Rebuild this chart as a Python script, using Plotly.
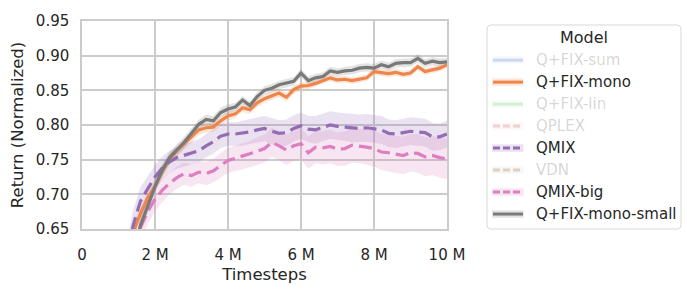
import plotly.graph_objects as go

# ---------------- data ----------------
timesteps_m = [0.0, 0.2, 0.4, 0.6, 0.8, 1.0, 1.2, 1.4, 1.6, 1.8,
               2.0, 2.2, 2.4, 2.6, 2.8, 3.0, 3.2, 3.4, 3.6, 3.8,
               4.0, 4.2, 4.4, 4.6, 4.8, 5.0, 5.2, 5.4, 5.6, 5.8,
               6.0, 6.2, 6.4, 6.6, 6.8, 7.0, 7.2, 7.4, 7.6, 7.8,
               8.0, 8.2, 8.4, 8.6, 8.8, 9.0, 9.2, 9.4, 9.6, 9.8, 10.0]

qfix_mono = [0.29, 0.33, 0.37, 0.42, 0.47, 0.52, 0.57, 0.645, 0.672, 0.695,
             0.712, 0.733, 0.751, 0.763, 0.773, 0.782, 0.793, 0.796, 0.797, 0.806,
             0.813, 0.816, 0.825, 0.822, 0.832, 0.838, 0.842, 0.846, 0.840, 0.851,
             0.856, 0.857, 0.860, 0.864, 0.868, 0.865, 0.866, 0.864, 0.866, 0.868,
             0.877, 0.875, 0.874, 0.876, 0.873, 0.875, 0.884, 0.877, 0.880, 0.882, 0.887]
qfix_mono_ci = [0.02, 0.02, 0.02, 0.02, 0.02, 0.02, 0.015, 0.012, 0.01, 0.01,
                0.009, 0.009, 0.008, 0.008, 0.008, 0.008, 0.007, 0.007, 0.007, 0.007,
                0.007, 0.006, 0.006, 0.006, 0.006, 0.006, 0.006, 0.006, 0.006, 0.006,
                0.006, 0.005, 0.005, 0.005, 0.005, 0.005, 0.005, 0.005, 0.005, 0.005,
                0.005, 0.005, 0.005, 0.005, 0.005, 0.005, 0.005, 0.005, 0.005, 0.005, 0.005]

qmix = [0.30, 0.34, 0.39, 0.44, 0.49, 0.54, 0.60, 0.655, 0.690, 0.708,
        0.725, 0.738, 0.747, 0.753, 0.756, 0.759, 0.763, 0.770, 0.776, 0.784,
        0.787, 0.787, 0.788, 0.790, 0.793, 0.795, 0.791, 0.788, 0.789, 0.795,
        0.799, 0.794, 0.793, 0.797, 0.800, 0.798, 0.797, 0.795, 0.795, 0.796,
        0.794, 0.793, 0.788, 0.787, 0.789, 0.791, 0.790, 0.789, 0.783, 0.783, 0.787]
qmix_ci = [0.03, 0.03, 0.03, 0.03, 0.03, 0.028, 0.025, 0.022, 0.02, 0.018,
           0.017, 0.017, 0.016, 0.016, 0.016, 0.016, 0.016, 0.017, 0.017, 0.017,
           0.017, 0.017, 0.018, 0.018, 0.018, 0.018, 0.019, 0.019, 0.019, 0.019,
           0.019, 0.019, 0.02, 0.02, 0.02, 0.02, 0.02, 0.02, 0.02, 0.02,
           0.02, 0.02, 0.02, 0.02, 0.02, 0.02, 0.02, 0.02, 0.02, 0.019, 0.019]

qmix_big = [0.25, 0.29, 0.33, 0.38, 0.43, 0.48, 0.53, 0.595, 0.652, 0.675,
            0.693, 0.706, 0.716, 0.724, 0.730, 0.727, 0.732, 0.730, 0.734, 0.742,
            0.749, 0.752, 0.755, 0.758, 0.762, 0.766, 0.775, 0.770, 0.764, 0.770,
            0.773, 0.760, 0.768, 0.767, 0.769, 0.765, 0.766, 0.771, 0.770, 0.768,
            0.766, 0.761, 0.760, 0.758, 0.756, 0.760, 0.759, 0.754, 0.756, 0.753, 0.751]
qmix_big_ci = [0.03, 0.03, 0.03, 0.03, 0.03, 0.028, 0.025, 0.022, 0.02, 0.018,
               0.017, 0.017, 0.016, 0.016, 0.016, 0.016, 0.016, 0.017, 0.017, 0.018,
               0.018, 0.018, 0.019, 0.019, 0.02, 0.02, 0.021, 0.021, 0.022, 0.022,
               0.023, 0.023, 0.023, 0.024, 0.024, 0.024, 0.025, 0.025, 0.025, 0.025,
               0.026, 0.026, 0.026, 0.027, 0.027, 0.027, 0.028, 0.028, 0.028, 0.029, 0.029]

qfix_mono_small = [0.28, 0.32, 0.36, 0.41, 0.46, 0.51, 0.56, 0.605, 0.655, 0.683,
                   0.711, 0.735, 0.753, 0.764, 0.775, 0.788, 0.801, 0.808, 0.806, 0.818,
                   0.823, 0.826, 0.836, 0.828, 0.841, 0.850, 0.853, 0.858, 0.860, 0.863,
                   0.875, 0.864, 0.868, 0.870, 0.878, 0.876, 0.878, 0.879, 0.882, 0.883,
                   0.882, 0.887, 0.884, 0.889, 0.890, 0.890, 0.896, 0.889, 0.892, 0.890, 0.891]
qfix_mono_small_ci = [0.02, 0.02, 0.02, 0.02, 0.02, 0.02, 0.015, 0.012, 0.01, 0.01,
                      0.009, 0.009, 0.008, 0.008, 0.008, 0.008, 0.007, 0.007, 0.007, 0.007,
                      0.007, 0.006, 0.006, 0.006, 0.006, 0.006, 0.006, 0.006, 0.006, 0.006,
                      0.006, 0.006, 0.006, 0.006, 0.006, 0.006, 0.006, 0.006, 0.006, 0.006,
                      0.006, 0.006, 0.006, 0.006, 0.006, 0.006, 0.006, 0.006, 0.006, 0.006, 0.006]

legend_models = ["Q+FIX-sum", "Q+FIX-mono", "Q+FIX-lin", "QPLEX", "QMIX", "VDN",
                 "QMIX-big", "Q+FIX-mono-small"]
legend_colors = ["#4878d0", "#ee854a", "#6acc64", "#d65f5f", "#956cb4", "#8c613c",
                 "#dc7ec0", "#797979"]
legend_dashed = [False, False, False, True, True, True, True, False]
legend_active = [False, True, False, False, True, False, True, True]

plotted = [  # (name, mean, ci)
    ("QMIX", qmix, qmix_ci),
    ("QMIX-big", qmix_big, qmix_big_ci),
    ("Q+FIX-mono", qfix_mono, qfix_mono_ci),
    ("Q+FIX-mono-small", qfix_mono_small, qfix_mono_small_ci),
]

x_tickvals = [0, 2, 4, 6, 8, 10]
x_ticktext = ["0", "2 M", "4 M", "6 M", "8 M", "10 M"]
y_tickvals = [0.65, 0.70, 0.75, 0.80, 0.85, 0.90, 0.95]

# ---------------- figure ----------------
W, H = 687, 294
L, R, T, B = 82, 447, 19, 229
TEXT = "#262626"
FONT = "DejaVu Sans"


def rgba(hex_color, a):
    h = hex_color.lstrip("#")
    r, g, b = int(h[0:2], 16), int(h[2:4], 16), int(h[4:6], 16)
    return f"rgba({r},{g},{b},{a})"


fig = go.Figure()
lookup = {p[0]: p for p in plotted}
order = [n for n in legend_models if n in lookup]
for name in order:
    _, mean, ci = lookup[name]
    i = legend_models.index(name)
    col = legend_colors[i]
    upper = [m + c for m, c in zip(mean, ci)]
    lower = [m - c for m, c in zip(mean, ci)]
    fig.add_trace(go.Scatter(
        x=timesteps_m + timesteps_m[::-1], y=upper + lower[::-1],
        fill="toself", fillcolor=rgba(col, 0.2), line=dict(width=0),
        mode="lines", hoverinfo="skip", showlegend=False))
for name in order:
    _, mean, ci = lookup[name]
    i = legend_models.index(name)
    col = legend_colors[i]
    fig.add_trace(go.Scatter(
        x=timesteps_m, y=mean, mode="lines", name=name,
        line=dict(color=col, width=3.2,
                  dash="13px,6px" if legend_dashed[i] else "solid"),
        showlegend=False))

# ---------------- custom legend ----------------
def px_x(p):
    return (p - L) / (R - L)


def px_y(p):
    return (B - p) / (B - T)


shapes = []
annotations = []
# legend frame with rounded corners
x0, x1, y0, y1, rad = 487, 681, 23, 229, 4
path = (f"M {px_x(x0 + rad)},{px_y(y0)} L {px_x(x1 - rad)},{px_y(y0)} "
        f"Q {px_x(x1)},{px_y(y0)} {px_x(x1)},{px_y(y0 + rad)} "
        f"L {px_x(x1)},{px_y(y1 - rad)} Q {px_x(x1)},{px_y(y1)} {px_x(x1 - rad)},{px_y(y1)} "
        f"L {px_x(x0 + rad)},{px_y(y1)} Q {px_x(x0)},{px_y(y1)} {px_x(x0)},{px_y(y1 - rad)} "
        f"L {px_x(x0)},{px_y(y0 + rad)} Q {px_x(x0)},{px_y(y0)} {px_x(x0 + rad)},{px_y(y0)} Z")
shapes.append(dict(type="path", path=path, xref="paper", yref="paper",
                   line=dict(color="#d9d9d9", width=1), fillcolor="white", layer="above"))
annotations.append(dict(text="Model", x=px_x(584), y=px_y(35.5), xref="paper", yref="paper",
                        showarrow=False, xanchor="center", yanchor="middle",
                        font=dict(family=FONT, size=16, color=TEXT)))
for k, name in enumerate(legend_models):
    py = 58.5 + k * 22.2
    col = legend_colors[k]
    op = 1.0 if legend_active[k] else 0.25
    shapes.append(dict(type="rect", xref="paper", yref="paper",
                       x0=px_x(492), x1=px_x(523.5), y0=px_y(py + 3.8), y1=px_y(py - 3.8),
                       fillcolor=rgba(col, 0.2), line=dict(width=0), opacity=op, layer="above"))
    shapes.append(dict(type="line", xref="paper", yref="paper",
                       x0=px_x(493), x1=px_x(523), y0=px_y(py), y1=px_y(py),
                       line=dict(color=col, width=3,
                                 dash="7px,3px" if legend_dashed[k] else "solid"),
                       opacity=op, layer="above"))
    annotations.append(dict(text=name, x=px_x(534), y=px_y(py), xref="paper", yref="paper",
                            showarrow=False, xanchor="left", yanchor="middle",
                            font=dict(family=FONT, size=15,
                                      color=TEXT if legend_active[k] else "rgba(38,38,38,0.2)")))

axis_common = dict(showgrid=True, gridcolor="#cccccc", gridwidth=1.5,
                   showline=True, linecolor="#cccccc", linewidth=1.5, mirror=True,
                   zeroline=False, ticks="", tickfont=dict(family=FONT, size=15, color=TEXT))

fig.update_layout(
    width=W, height=H, margin=dict(l=L, r=W - R, t=T, b=H - B),
    paper_bgcolor="white", plot_bgcolor="white",
    font=dict(family=FONT, color=TEXT),
    showlegend=False,
    xaxis=dict(range=[0, 10], tickvals=x_tickvals, ticktext=x_ticktext,
               title=dict(text="Timesteps", font=dict(family=FONT, size=16.5, color=TEXT), standoff=6),
               ticklabelstandoff=11, **axis_common),
    yaxis=dict(range=[0.65, 0.95], tickvals=y_tickvals, tickformat=".2f",
               title=dict(text="Return (Normalized)", font=dict(family=FONT, size=16.5, color=TEXT), standoff=8),
               ticklabelstandoff=8, **axis_common),
    shapes=shapes, annotations=annotations,
)

fig.write_html("out.html", config={"displayModeBar": False},
               post_script="document.body.style.margin='0px';document.body.style.overflow='hidden';")
